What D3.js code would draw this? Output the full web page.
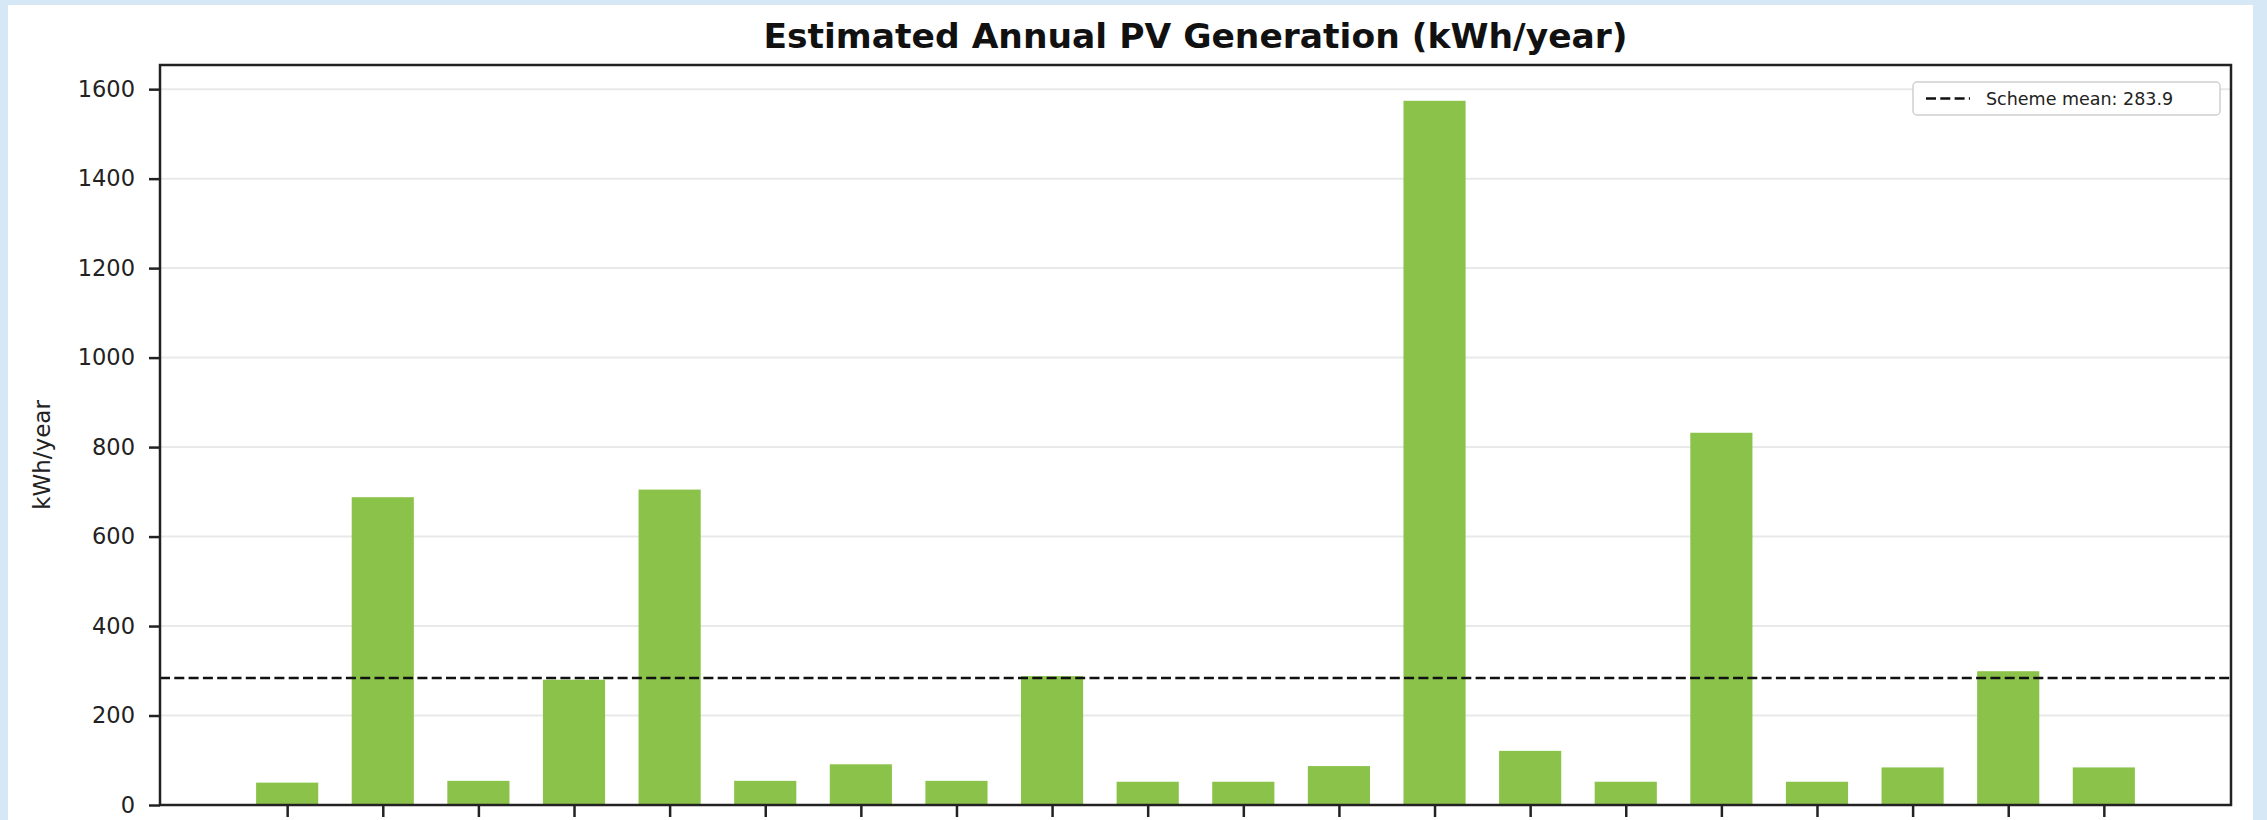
<!DOCTYPE html>
<html>
<head>
<meta charset="utf-8">
<script src="https://cdn.jsdelivr.net/npm/d3@7"></script>
<style>
  html, body { margin: 0; padding: 0; background: #d6e7f6; }
  svg { display: block; }
</style>
</head>
<body>
<svg id="chart"></svg>
<script>
// ---------------------- data ---------------------------
// x labels are cut off in the source picture, so homes are only numbered
const homes = ["1","2","3","4","5","6","7","8","9","10","11","12","13","14","15","16","17","18","19","20"];
const pvKwh = [50, 688, 54, 280, 705, 54, 91, 54, 288, 52, 52, 87, 1574, 121, 52, 832, 52, 84, 299, 84];
const yTicks = [0, 200, 400, 600, 800, 1000, 1200, 1400, 1600];
const schemeMean = 283.9;
const titleText = "Estimated Annual PV Generation (kWh/year)";
const yLabel = "kWh/year";
const legendLabel = "Scheme mean: " + schemeMean;

// ---------------------- layout ---------------------------
const width = 2267;
const height = 820;
const plot = { left: 160, right: 2231, top: 65, bottom: 805 };
const barColor = "#8bc34a";
const barWidth = 0.65;

const svg = d3.select("#chart")
  .attr("width", width)
  .attr("height", height);

// white card with a thin blue frame round it
svg.append("rect")
  .attr("x", 8).attr("y", 5)
  .attr("width", 2253 - 8).attr("height", height)
  .attr("fill", "#ffffff");

const xScale = d3.scaleLinear()
  .domain([-1.33, homes.length - 1 + 1.33])
  .range([plot.left, plot.right]);

const yScale = d3.scaleLinear()
  .domain([0, 1654])
  .range([plot.bottom, plot.top]);

// grid lines
svg.append("g")
  .selectAll("line")
  .data(yTicks)
  .join("line")
  .attr("x1", plot.left)
  .attr("x2", plot.right)
  .attr("y1", d => yScale(d))
  .attr("y2", d => yScale(d))
  .attr("stroke", "#e9e9e9")
  .attr("stroke-width", 2);

// bars
svg.append("g")
  .selectAll("rect")
  .data(pvKwh)
  .join("rect")
  .attr("x", (d, i) => xScale(i - barWidth / 2))
  .attr("width", xScale(barWidth) - xScale(0))
  .attr("y", d => yScale(d))
  .attr("height", d => yScale(0) - yScale(d))
  .attr("fill", barColor);

// mean line
svg.append("line")
  .attr("x1", plot.left)
  .attr("x2", plot.right)
  .attr("y1", yScale(schemeMean))
  .attr("y2", yScale(schemeMean))
  .attr("stroke", "#111")
  .attr("stroke-width", 2.6)
  .attr("stroke-dasharray", "10,4.3");

// y axis
const yAxis = svg.append("g")
  .attr("transform", "translate(" + plot.left + ",0)")
  .call(d3.axisLeft(yScale).tickValues(yTicks).tickFormat(d3.format("d")).tickSize(11).tickPadding(14));
yAxis.select(".domain").remove();
yAxis.selectAll(".tick line").attr("stroke", "#222").attr("stroke-width", 2.5);
yAxis.selectAll(".tick text")
  .attr("font-family", "DejaVu Sans")
  .attr("font-size", 22.5)
  .attr("fill", "#222");

// x axis ticks (labels fall outside the picture)
const xAxis = svg.append("g")
  .attr("transform", "translate(0," + plot.bottom + ")")
  .call(d3.axisBottom(xScale).tickValues(d3.range(homes.length)).tickSize(12).tickFormat(""));
xAxis.select(".domain").remove();
xAxis.selectAll(".tick line").attr("stroke", "#222").attr("stroke-width", 2.5);

// frame
svg.append("rect")
  .attr("x", plot.left)
  .attr("y", plot.top)
  .attr("width", plot.right - plot.left)
  .attr("height", plot.bottom - plot.top)
  .attr("fill", "none")
  .attr("stroke", "#222")
  .attr("stroke-width", 2.5);

// title
svg.append("text")
  .attr("x", (plot.left + plot.right) / 2)
  .attr("y", 48)
  .attr("text-anchor", "middle")
  .attr("font-family", "DejaVu Sans")
  .attr("font-weight", "bold")
  .attr("font-size", 34.5)
  .attr("fill", "#111")
  .text(titleText);

// y label
svg.append("text")
  .attr("transform", "translate(50,455) rotate(-90)")
  .attr("text-anchor", "middle")
  .attr("font-family", "DejaVu Sans")
  .attr("font-size", 23)
  .attr("fill", "#222")
  .text(yLabel);

// legend
const legend = svg.append("g");
legend.append("rect")
  .attr("x", 1913).attr("y", 82)
  .attr("width", 2220 - 1913).attr("height", 33)
  .attr("rx", 4)
  .attr("fill", "#ffffff")
  .attr("stroke", "#d0d0d0")
  .attr("stroke-width", 1.5);
legend.append("line")
  .attr("x1", 1926).attr("x2", 1970)
  .attr("y1", 98.5).attr("y2", 98.5)
  .attr("stroke", "#111")
  .attr("stroke-width", 2.6)
  .attr("stroke-dasharray", "10,4.3");
legend.append("text")
  .attr("x", 1986).attr("y", 104.5)
  .attr("font-family", "DejaVu Sans")
  .attr("font-size", 17.5)
  .attr("fill", "#222")
  .text(legendLabel);
</script>
</body>
</html>
